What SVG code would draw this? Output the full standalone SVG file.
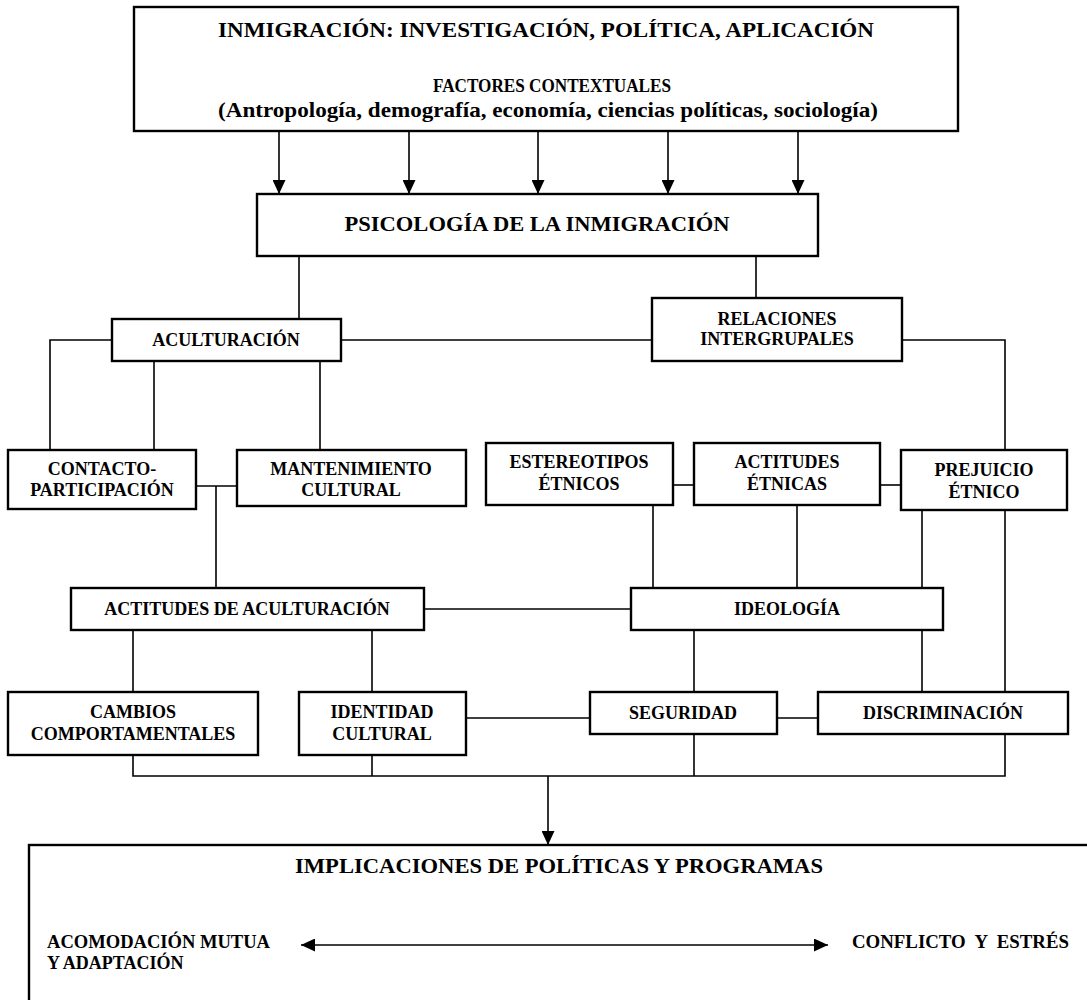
<svg xmlns="http://www.w3.org/2000/svg" width="1087" height="1000" viewBox="0 0 1087 1000">
<style>
.box{fill:#fff;stroke:#000;stroke-width:2.4}
.ln{fill:none;stroke:#000;stroke-width:1.6}
.t{font-family:"Liberation Serif","DejaVu Serif",serif;font-weight:bold;font-size:18px;text-anchor:middle;fill:#000}
.big{font-size:22px}
.l{text-anchor:start}
.r{text-anchor:end}
</style>
<defs>
<marker id="ah" viewBox="0 0 14 13" refX="14" refY="6.5" markerWidth="14" markerHeight="13" markerUnits="userSpaceOnUse" orient="auto-start-reverse">
<path d="M0,0 L14,6.5 L0,13 z" fill="#000"/>
</marker>
</defs>
<rect width="1087" height="1000" fill="#fff"/>
<g id="n-top">
<rect class="box" x="134" y="7" width="824" height="124"/>
<text class="t big" x="546" y="37" textLength="656" lengthAdjust="spacingAndGlyphs">INMIGRACIÓN: INVESTIGACIÓN, POLÍTICA, APLICACIÓN</text>
<text class="t" x="552" y="92" font-size="20" textLength="238" lengthAdjust="spacingAndGlyphs">FACTORES CONTEXTUALES</text>
<text class="t big" x="548" y="117" textLength="660" lengthAdjust="spacingAndGlyphs">(Antropología, demografía, economía, ciencias políticas, sociología)</text>
</g>
<g id="n-psicologia">
<rect class="box" x="257" y="194" width="561" height="62"/>
<text class="t big" x="537" y="231" textLength="385" lengthAdjust="spacingAndGlyphs">PSICOLOGÍA DE LA INMIGRACIÓN</text>
</g>
<g id="n-aculturacion">
<rect class="box" x="112" y="319" width="229" height="42"/>
<text class="t" x="226" y="346">ACULTURACIÓN</text>
</g>
<g id="n-relaciones">
<rect class="box" x="652" y="298" width="250" height="63"/>
<text class="t" x="777" y="325">RELACIONES</text>
<text class="t" x="777" y="345">INTERGRUPALES</text>
</g>
<g id="n-contacto">
<rect class="box" x="8" y="450" width="188" height="59"/>
<text class="t" x="102" y="475">CONTACTO-</text>
<text class="t" x="102" y="496">PARTICIPACIÓN</text>
</g>
<g id="n-mantenimiento">
<rect class="box" x="237" y="450" width="229" height="56"/>
<text class="t" x="351" y="475">MANTENIMIENTO</text>
<text class="t" x="351" y="496">CULTURAL</text>
</g>
<g id="n-estereotipos">
<rect class="box" x="486" y="443" width="187" height="62"/>
<text class="t" x="579" y="468">ESTEREOTIPOS</text>
<text class="t" x="579" y="490">ÉTNICOS</text>
</g>
<g id="n-actitudes-etnicas">
<rect class="box" x="694" y="443" width="186" height="62"/>
<text class="t" x="787" y="468">ACTITUDES</text>
<text class="t" x="787" y="490">ÉTNICAS</text>
</g>
<g id="n-prejuicio">
<rect class="box" x="901" y="450" width="166" height="60"/>
<text class="t" x="984" y="476">PREJUICIO</text>
<text class="t" x="984" y="498">ÉTNICO</text>
</g>
<g id="n-actitudes-aculturacion">
<rect class="box" x="71" y="588" width="353" height="42"/>
<text class="t" x="247" y="615">ACTITUDES DE ACULTURACIÓN</text>
</g>
<g id="n-ideologia">
<rect class="box" x="631" y="588" width="312" height="42"/>
<text class="t" x="787" y="615">IDEOLOGÍA</text>
</g>
<g id="n-cambios">
<rect class="box" x="8" y="692" width="250" height="63"/>
<text class="t" x="133" y="718">CAMBIOS</text>
<text class="t" x="133" y="740">COMPORTAMENTALES</text>
</g>
<g id="n-identidad">
<rect class="box" x="299" y="692" width="167" height="63"/>
<text class="t" x="382" y="718">IDENTIDAD</text>
<text class="t" x="382" y="740">CULTURAL</text>
</g>
<g id="n-seguridad">
<rect class="box" x="590" y="692" width="187" height="42"/>
<text class="t" x="683" y="719">SEGURIDAD</text>
</g>
<g id="n-discriminacion">
<rect class="box" x="818" y="692" width="250" height="42"/>
<text class="t" x="943" y="719">DISCRIMINACIÓN</text>
</g>
<g id="n-implicaciones">
<rect class="box" x="29" y="845" width="1080" height="170"/>
<text class="t big" x="559" y="873" textLength="528" lengthAdjust="spacingAndGlyphs">IMPLICACIONES DE POLÍTICAS Y PROGRAMAS</text>
<text class="t l" x="47" y="948" textLength="223" lengthAdjust="spacingAndGlyphs">ACOMODACIÓN MUTUA</text>
<text class="t l" x="47" y="969">Y ADAPTACIÓN</text>
<text class="t r" x="1069" y="948" xml:space="preserve" textLength="217" lengthAdjust="spacingAndGlyphs">CONFLICTO  Y  ESTRÉS</text>
</g>
<g id="connectors">
<line class="ln" x1="279" y1="132" x2="279" y2="194" marker-end="url(#ah)"/>
<line class="ln" x1="409" y1="132" x2="409" y2="194" marker-end="url(#ah)"/>
<line class="ln" x1="538" y1="132" x2="538" y2="194" marker-end="url(#ah)"/>
<line class="ln" x1="668" y1="132" x2="668" y2="194" marker-end="url(#ah)"/>
<line class="ln" x1="798" y1="132" x2="798" y2="194" marker-end="url(#ah)"/>
<path class="ln" d="M299,257 V318"/>
<path class="ln" d="M756,257 V297"/>
<path class="ln" d="M342,340 H651"/>
<path class="ln" d="M111,340 H50 V449"/>
<path class="ln" d="M154,362 V449"/>
<path class="ln" d="M320,362 V449"/>
<path class="ln" d="M197,486 H236"/>
<path class="ln" d="M216,486 V587"/>
<path class="ln" d="M903,340 H1005 V449"/>
<path class="ln" d="M674,485 H693"/>
<path class="ln" d="M881,485 H900"/>
<path class="ln" d="M653,506 V587"/>
<path class="ln" d="M797,506 V587"/>
<path class="ln" d="M922,511 V587"/>
<path class="ln" d="M1005,511 V691"/>
<path class="ln" d="M425,609 H630"/>
<path class="ln" d="M133,631 V691"/>
<path class="ln" d="M372,631 V691"/>
<path class="ln" d="M694,631 V691"/>
<path class="ln" d="M922,631 V691"/>
<path class="ln" d="M467,718 H589"/>
<path class="ln" d="M778,718 H817"/>
<path class="ln" d="M133,756 V776 H1005 V735"/>
<path class="ln" d="M372,756 V776"/>
<path class="ln" d="M694,735 V776"/>
<line class="ln" x1="548" y1="776" x2="548" y2="845" marker-end="url(#ah)"/>
<line class="ln" x1="301" y1="945" x2="828" y2="945" marker-start="url(#ah)" marker-end="url(#ah)"/>
</g>
</svg>
